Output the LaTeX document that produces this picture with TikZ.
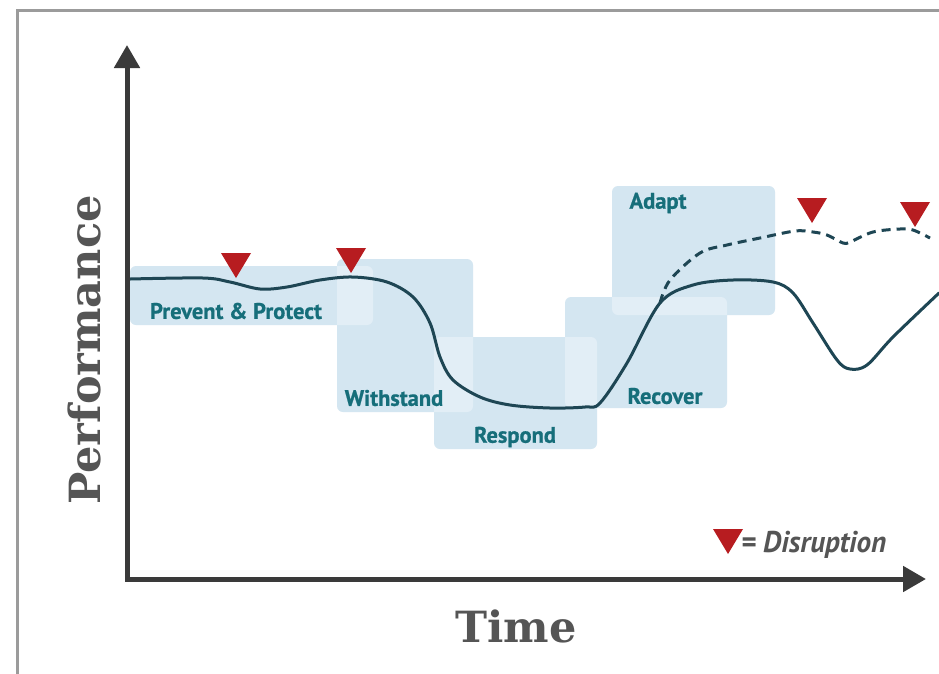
\documentclass[tikz,border=0pt]{standalone}
\usepackage{fontspec}
\setmainfont{PT Sans}
\newfontfamily\labelfont[FakeBold=0.8]{PT Sans Bold}
\newfontfamily\slabfont{DejaVu Serif}
\usetikzlibrary{arrows.meta}
\definecolor{boxfill}{RGB}{212,230,241}
\definecolor{boxlight}{RGB}{226,238,246}
\definecolor{labelteal}{RGB}{22,110,122}
\definecolor{curvecol}{RGB}{30,70,84}
\definecolor{axiscol}{RGB}{58,58,58}
\definecolor{framecol}{RGB}{155,155,155}
\definecolor{disred}{RGB}{183,28,32}
\definecolor{titlegray}{RGB}{85,85,85}
\tikzset{
  phasebox/.style={fill=boxfill, rounded corners=6pt},
  phaselight/.style={fill=boxlight, rounded corners=6pt},
  phaselabel/.style={text=labelteal, font=\labelfont\fontsize{22.5}{24}\selectfont, inner sep=0pt},
  perfcurve/.style={draw=curvecol, line width=3pt, line cap=round, line join=round},
  disrupt/.style={fill=disred},
  axisline/.style={draw=axiscol, line width=5pt, line join=miter},
  axistitle/.style={text=titlegray, font=\slabfont\fontsize{43}{45}\selectfont\bfseries, inner sep=0pt}
}
\newcommand{\disruptmark}[2]{\fill[disrupt] (#1-15,#2-25) -- (#1+15,#2-25) -- (#1,#2) -- cycle;}
\begin{document}
\begin{tikzpicture}[x=1pt,y=-1pt]
\useasboundingbox (0,0) rectangle (939,673);
\fill[white] (0,0) rectangle (939,673);
% frame
\draw[framecol, line width=3pt] (17,700) -- (17,10) -- (960,10);
% phase boxes
\def\boxP{(130,266) rectangle (373,325)}
\def\boxW{(337,259) rectangle (473,412)}
\def\boxR{(434,337) rectangle (597,449)}
\def\boxC{(565,297) rectangle (727,408)}
\def\boxA{(612,186) rectangle (775,315)}
\fill[phasebox] \boxP;
\fill[phasebox] \boxW;
\fill[phasebox] \boxR;
\fill[phasebox] \boxC;
\fill[phasebox] \boxA;
\begin{scope}\clip[rounded corners=6pt] \boxP; \fill[phaselight] \boxW; \end{scope}
\begin{scope}\clip[rounded corners=6pt] \boxW; \fill[phaselight] \boxR; \end{scope}
\begin{scope}\clip[rounded corners=6pt] \boxR; \fill[phaselight] \boxC; \end{scope}
\begin{scope}\clip[rounded corners=6pt] \boxC; \fill[phaselight] \boxA; \end{scope}
% labels
\node[phaselabel] (prevent) at (236,311) {Prevent \& Protect};
\node[phaselabel] (withstand) at (394,398) {Withstand};
\node[phaselabel] (respond) at (515,437) {Respond};
\node[phaselabel] (recover) at (665,396) {Recover};
\node[phaselabel] (adapt) at (658,203) {Adapt};
% curves
\draw[perfcurve] plot[smooth, tension=0.55] coordinates {
 (130,279) (203,278) (230,282) (260,289) (287,287) (320,280) (353,277) (387,282)
 (413,297) (430,323) (440,357) (453,380) (480,397) (510,405) (550,408) (585,407)
 (600,403) (627,363) (660,303) (693,285) (733,280) (773,282) (793,293) (813,323)
 (837,360) (850,369) (867,365) (893,337) (939,293)};
\draw[perfcurve, dash pattern=on 9pt off 6pt, line cap=butt] plot[smooth, tension=0.55] coordinates {
 (660,303) (670,280) (700,253) (727,245) (760,238) (795,231) (813,232) (827,235)
 (843,243) (850,242) (873,232) (900,229) (913,230) (930,238)};
% disruptions
\disruptmark{236}{278}
\disruptmark{351}{273}
\disruptmark{812}{223}
\disruptmark{915}{227}
\disruptmark{728}{554}
\node[anchor=base west, text=titlegray, inner sep=0pt] (legend) at (741,552)
  {\scalebox{0.97}[1]{\fontsize{30}{32}\selectfont\bfseries\itshape = Disruption}};
% axes
\coordinate (ytip) at (127,45);
\coordinate (origin) at (127,579);
\coordinate (xtip) at (926,579);
\draw[axisline, {Triangle[length=23pt,width=25pt]}-{Triangle[length=23pt,width=25pt]}] (ytip) -- (origin) -- (xtip);
% titles
\node[axistitle, rotate=90] (perf) at (84,350) {Performance};
\node[axistitle] (time) at (516,626) {Time};
\end{tikzpicture}
\end{document}
